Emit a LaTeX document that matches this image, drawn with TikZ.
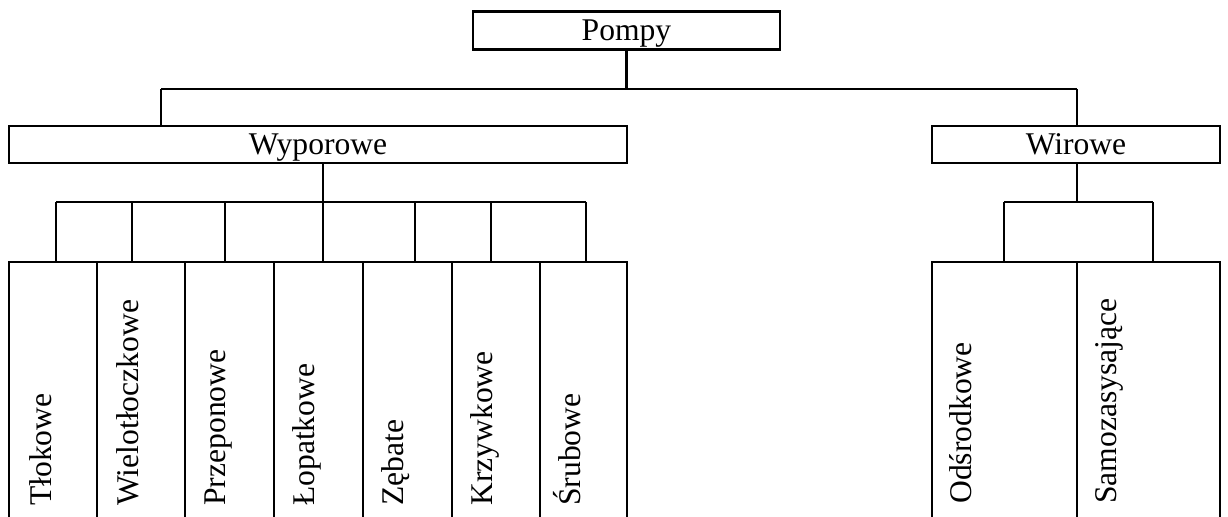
\documentclass[tikz,border=0pt]{standalone}
\usepackage{fontspec}
\setmainfont{Liberation Serif}
\begin{document}
\begin{tikzpicture}[x=0.75pt,y=-0.75pt,
  font=\fontsize{23.7pt}{28pt}\selectfont,
  box/.style={draw, line width=1.6pt, inner sep=0pt, text depth=0pt, text height=15.7pt},
  tallbox/.style={draw, line width=1.6pt, inner sep=0pt, minimum height=208.5pt},
  vlabel/.style={rotate=90, anchor=base west, inner sep=0pt},
  conn/.style={line width=1.6pt}]
\clip (0,0) rectangle (1228,517);
\fill[white] (0,0) rectangle (1228,517);
% top level
\node[box, minimum width=230.25pt, minimum height=28.5pt] (pompy) at (626.5,30.5) {Pompy};
\node[box, minimum width=463.5pt, minimum height=27.75pt] (wyp) at (318,144.5) {Wyporowe};
\node[box, minimum width=216pt, minimum height=27.75pt] (wir) at (1076,144.5) {Wirowe};
% bottom boxes
\node[tallbox, minimum width=66pt] (b1) at (53,401) {};
\node[tallbox, minimum width=66pt] (b2) at (141,401) {};
\node[tallbox, minimum width=66.75pt] (b3) at (229.5,401) {};
\node[tallbox, minimum width=66.75pt] (b4) at (318.5,401) {};
\node[tallbox, minimum width=66.75pt] (b5) at (407.5,401) {};
\node[tallbox, minimum width=66pt] (b6) at (496,401) {};
\node[tallbox, minimum width=65.25pt] (b7) at (583.5,401) {};
\node[tallbox, minimum width=108.75pt] (w1) at (1004.5,401) {};
\node[tallbox, minimum width=107.25pt] (w2) at (1148.5,401) {};
% labels
\node[vlabel] (t1) at (51,506) {Tłokowe};
\node[vlabel] (t2) at (138,506) {Wielotłoczkowe};
\node[vlabel] (t3) at (225,506) {Przeponowe};
\node[vlabel] (t4) at (314,506) {Łopatkowe};
\node[vlabel] (t5) at (403,506) {Zębate};
\node[vlabel] (t6) at (492,506) {Krzywkowe};
\node[vlabel] (t7) at (580,506) {Śrubowe};
\node[vlabel] (t8) at (971,504) {Odśrodkowe};
\node[vlabel] (t9) at (1116,504) {Samozasysające};
% junctions
\coordinate (jL) at (161,89);
\coordinate (jR) at (1077,89);
\coordinate (jW) at (323,202);
\coordinate (jWl) at (56,202);
\coordinate (jWr) at (586,202);
\coordinate (jV) at (1077,202);
\coordinate (jVl) at (1004,202);
\coordinate (jVr) at (1153,202);
% connectors
\draw[conn] (pompy.south) -- (pompy.south |- jL);
\draw[conn] (jL) -- (jR);
\draw[conn] (jL) -- (jL |- wyp.north);
\draw[conn] (jR) -- (jR |- wir.north);
\draw[conn] (jW |- wyp.south) -- (jW);
\draw[conn] (jWl) -- (jWr);
\draw[conn] (jWl) -- (jWl |- b1.north);
\draw[conn] (132,202) -- (132,202 |- b2.north);
\draw[conn] (225,202) -- (225,202 |- b3.north);
\draw[conn] (jW) -- (jW |- b4.north);
\draw[conn] (415,202) -- (415,202 |- b5.north);
\draw[conn] (491,202) -- (491,202 |- b6.north);
\draw[conn] (jWr) -- (jWr |- b7.north);
\draw[conn] (jV |- wir.south) -- (jV);
\draw[conn] (jVl) -- (jVr);
\draw[conn] (jVl) -- (jVl |- w1.north);
\draw[conn] (jVr) -- (jVr |- w2.north);
\end{tikzpicture}
\end{document}
